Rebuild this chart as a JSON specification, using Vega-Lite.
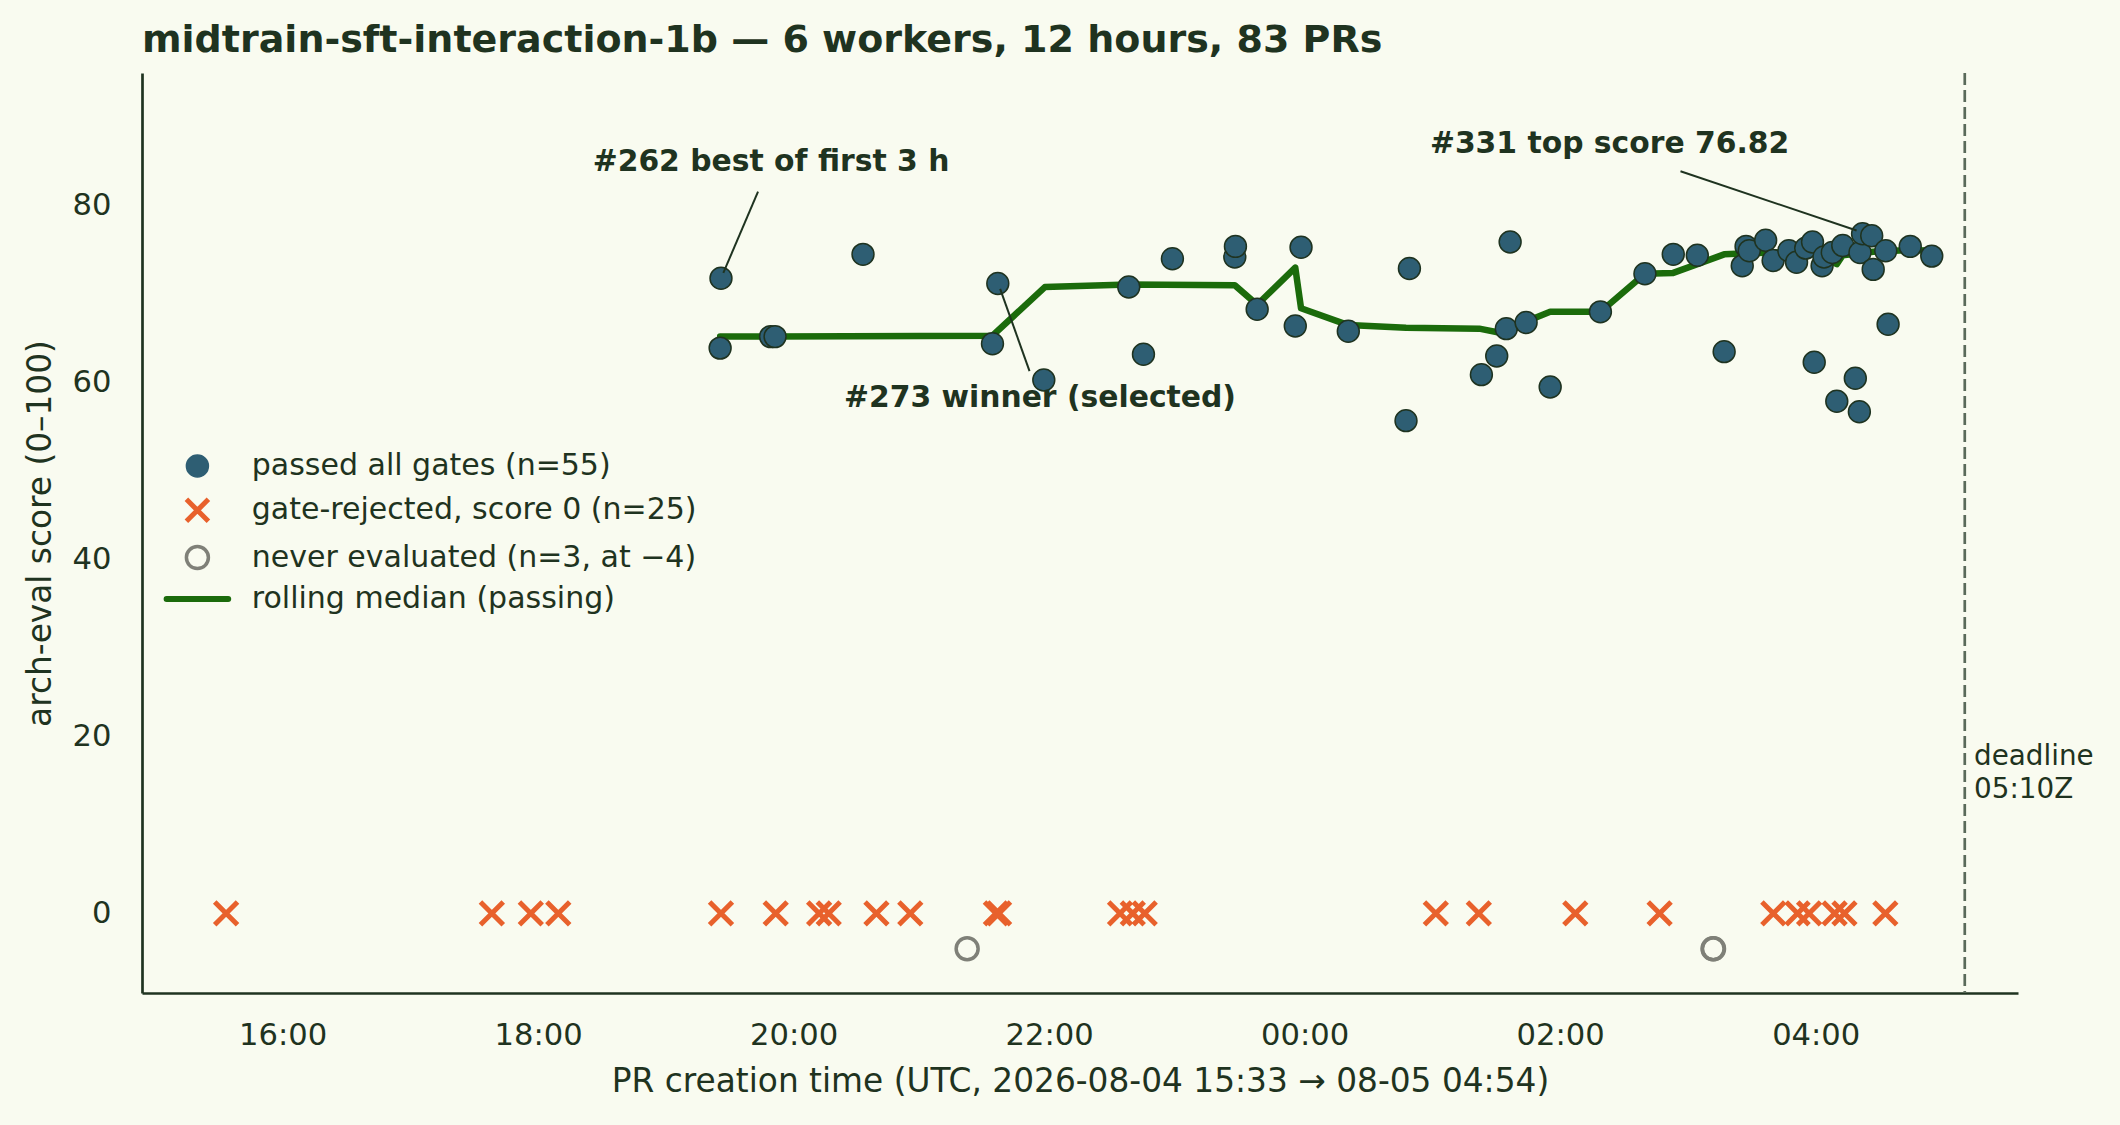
{
  "$schema": "https://vega.github.io/schema/vega-lite/v6.json",
  "width": 1876,
  "height": 920,
  "autosize": {"type": "none"},
  "padding": {"left": 142, "top": 73, "right": 102, "bottom": 132},
  "background": "#f9fbf0",
  "title": {
    "text": "midtrain-sft-interaction-1b — 6 workers, 12 hours, 83 PRs",
    "anchor": "start",
    "frame": "group",
    "font": "DejaVu Sans",
    "fontSize": 38,
    "fontWeight": "bold",
    "color": "#1f3320",
    "baseline": "alphabetic",
    "offset": -18.5
  },
  "config": {
    "view": {"stroke": null},
    "font": "DejaVu Sans",
    "axis": {
      "domainColor": "#1f3320",
      "domainWidth": 2.7,
      "ticks": false,
      "tickSize": 0,
      "grid": false,
      "labelFont": "DejaVu Sans",
      "labelFontSize": 30.6,
      "labelColor": "#1f3320",
      "titleFont": "DejaVu Sans",
      "titleFontSize": 32.8,
      "titleColor": "#1f3320",
      "titleFontWeight": "normal"
    },
    "legend": {
      "labelFont": "DejaVu Sans",
      "labelFontSize": 30,
      "labelColor": "#1f3320",
      "labelLimit": 1000,
      "padding": 0,
      "symbolSize": 484
    }
  },
  "datasets": {
    "passed": [
      {"t": "2026-08-04T19:25:54Z", "score": 71.8},
      {"t": "2026-08-04T19:25:30Z", "score": 63.9},
      {"t": "2026-08-04T19:49:12Z", "score": 65.2},
      {"t": "2026-08-04T19:51:18Z", "score": 65.2},
      {"t": "2026-08-04T20:32:36Z", "score": 74.5},
      {"t": "2026-08-04T21:33:24Z", "score": 64.4},
      {"t": "2026-08-04T21:35:54Z", "score": 71.2},
      {"t": "2026-08-04T21:57:30Z", "score": 60.3},
      {"t": "2026-08-04T22:37:24Z", "score": 70.8},
      {"t": "2026-08-04T22:44:18Z", "score": 63.2},
      {"t": "2026-08-04T22:57:54Z", "score": 74.0},
      {"t": "2026-08-04T23:27:12Z", "score": 74.2},
      {"t": "2026-08-04T23:27:30Z", "score": 75.4},
      {"t": "2026-08-04T23:37:42Z", "score": 68.3},
      {"t": "2026-08-04T23:55:36Z", "score": 66.4},
      {"t": "2026-08-04T23:58:18Z", "score": 75.3},
      {"t": "2026-08-05T00:20:30Z", "score": 65.8},
      {"t": "2026-08-05T00:47:36Z", "score": 55.7},
      {"t": "2026-08-05T00:49:12Z", "score": 72.9},
      {"t": "2026-08-05T01:23:00Z", "score": 60.9},
      {"t": "2026-08-05T01:30:12Z", "score": 63.0},
      {"t": "2026-08-05T01:34:42Z", "score": 66.1},
      {"t": "2026-08-05T01:36:30Z", "score": 75.9},
      {"t": "2026-08-05T01:44:00Z", "score": 66.8},
      {"t": "2026-08-05T01:55:18Z", "score": 59.5},
      {"t": "2026-08-05T02:18:54Z", "score": 68.0},
      {"t": "2026-08-05T02:39:48Z", "score": 72.3},
      {"t": "2026-08-05T02:53:06Z", "score": 74.5},
      {"t": "2026-08-05T03:04:24Z", "score": 74.4},
      {"t": "2026-08-05T03:17:00Z", "score": 63.5},
      {"t": "2026-08-05T03:25:30Z", "score": 73.2},
      {"t": "2026-08-05T03:27:18Z", "score": 75.4},
      {"t": "2026-08-05T03:28:48Z", "score": 74.9},
      {"t": "2026-08-05T03:36:30Z", "score": 76.1},
      {"t": "2026-08-05T03:40:00Z", "score": 73.8},
      {"t": "2026-08-05T03:47:24Z", "score": 74.9},
      {"t": "2026-08-05T03:51:00Z", "score": 73.6},
      {"t": "2026-08-05T03:55:18Z", "score": 75.2},
      {"t": "2026-08-05T03:58:30Z", "score": 75.9},
      {"t": "2026-08-05T03:59:18Z", "score": 62.3},
      {"t": "2026-08-05T04:03:00Z", "score": 73.2},
      {"t": "2026-08-05T04:03:54Z", "score": 74.2},
      {"t": "2026-08-05T04:07:48Z", "score": 74.7},
      {"t": "2026-08-05T04:09:54Z", "score": 57.9},
      {"t": "2026-08-05T04:12:42Z", "score": 75.5},
      {"t": "2026-08-05T04:18:36Z", "score": 60.5},
      {"t": "2026-08-05T04:20:30Z", "score": 56.7},
      {"t": "2026-08-05T04:20:48Z", "score": 74.7},
      {"t": "2026-08-05T04:22:00Z", "score": 76.82},
      {"t": "2026-08-05T04:26:18Z", "score": 76.6},
      {"t": "2026-08-05T04:27:00Z", "score": 72.8},
      {"t": "2026-08-05T04:32:54Z", "score": 74.9},
      {"t": "2026-08-05T04:34:00Z", "score": 66.6},
      {"t": "2026-08-05T04:44:24Z", "score": 75.4},
      {"t": "2026-08-05T04:54:30Z", "score": 74.3}
    ],
    "rejected": [
      {"t": "2026-08-04T15:33:30Z", "score": 0},
      {"t": "2026-08-04T17:38:18Z", "score": 0},
      {"t": "2026-08-04T17:56:36Z", "score": 0},
      {"t": "2026-08-04T18:09:30Z", "score": 0},
      {"t": "2026-08-04T19:25:54Z", "score": 0},
      {"t": "2026-08-04T19:51:36Z", "score": 0},
      {"t": "2026-08-04T20:12:00Z", "score": 0},
      {"t": "2026-08-04T20:16:30Z", "score": 0},
      {"t": "2026-08-04T20:38:54Z", "score": 0},
      {"t": "2026-08-04T20:54:48Z", "score": 0},
      {"t": "2026-08-04T21:35:00Z", "score": 0},
      {"t": "2026-08-04T21:36:30Z", "score": 0},
      {"t": "2026-08-04T22:33:18Z", "score": 0},
      {"t": "2026-08-04T22:39:18Z", "score": 0},
      {"t": "2026-08-04T22:44:54Z", "score": 0},
      {"t": "2026-08-05T01:01:36Z", "score": 0},
      {"t": "2026-08-05T01:21:48Z", "score": 0},
      {"t": "2026-08-05T02:07:06Z", "score": 0},
      {"t": "2026-08-05T02:46:42Z", "score": 0},
      {"t": "2026-08-05T03:40:06Z", "score": 0},
      {"t": "2026-08-05T03:51:30Z", "score": 0},
      {"t": "2026-08-05T03:56:54Z", "score": 0},
      {"t": "2026-08-05T04:08:54Z", "score": 0},
      {"t": "2026-08-05T04:13:30Z", "score": 0},
      {"t": "2026-08-05T04:32:42Z", "score": 0}
    ],
    "never": [
      {"t": "2026-08-04T21:21:30Z", "score": -4},
      {"t": "2026-08-05T03:11:48Z", "score": -4},
      {"t": "2026-08-05T03:12:00Z", "score": -4}
    ],
    "median": [
      {"t": "2026-08-04T19:25:30Z", "score": 65.2},
      {"t": "2026-08-04T19:51:18Z", "score": 65.2},
      {"t": "2026-08-04T21:33:24Z", "score": 65.3},
      {"t": "2026-08-04T21:58:00Z", "score": 70.8},
      {"t": "2026-08-04T22:37:24Z", "score": 71.1},
      {"t": "2026-08-04T23:27:12Z", "score": 71.0},
      {"t": "2026-08-04T23:37:42Z", "score": 68.8},
      {"t": "2026-08-04T23:55:36Z", "score": 73.0},
      {"t": "2026-08-04T23:58:18Z", "score": 68.4},
      {"t": "2026-08-05T00:20:30Z", "score": 66.5},
      {"t": "2026-08-05T00:47:36Z", "score": 66.2},
      {"t": "2026-08-05T01:22:00Z", "score": 66.1},
      {"t": "2026-08-05T01:34:42Z", "score": 65.5},
      {"t": "2026-08-05T01:44:00Z", "score": 66.9},
      {"t": "2026-08-05T01:55:18Z", "score": 68.0},
      {"t": "2026-08-05T02:18:54Z", "score": 68.0},
      {"t": "2026-08-05T02:39:48Z", "score": 72.3},
      {"t": "2026-08-05T02:53:06Z", "score": 72.4},
      {"t": "2026-08-05T03:17:00Z", "score": 74.5},
      {"t": "2026-08-05T03:25:30Z", "score": 74.6},
      {"t": "2026-08-05T03:40:00Z", "score": 74.7},
      {"t": "2026-08-05T03:58:30Z", "score": 74.8},
      {"t": "2026-08-05T04:09:54Z", "score": 73.4},
      {"t": "2026-08-05T04:12:42Z", "score": 74.4},
      {"t": "2026-08-05T04:27:00Z", "score": 74.8},
      {"t": "2026-08-05T04:44:24Z", "score": 75.0},
      {"t": "2026-08-05T04:54:30Z", "score": 74.9}
    ],
    "leaders": [
      {"t": "2026-08-04T19:43:18Z", "score": 81.6, "t2": "2026-08-04T19:27:00Z", "score2": 72.4},
      {"t": "2026-08-04T21:37:00Z", "score": 70.6, "t2": "2026-08-04T21:50:48Z", "score2": 61.3},
      {"t": "2026-08-05T02:56:30Z", "score": 83.9, "t2": "2026-08-05T04:19:12Z", "score2": 77.2}
    ],
    "notes": [
      {"t": "2026-08-04T19:49:24Z", "score": 83.9, "label": "#262 best of first 3 h"},
      {"t": "2026-08-04T21:55:42Z", "score": 57.24, "label": "#273 winner (selected)"},
      {"t": "2026-08-05T02:23:12Z", "score": 86.0, "label": "#331 top score 76.82"}
    ],
    "deadline": [
      {"t": "2026-08-05T05:10:00Z", "score": 16.83, "label": "deadline\n05:10Z"}
    ]
  },
  "layer": [
    {
      "data": {"name": "deadline"},
      "mark": {"type": "rule", "color": "#5a6a5a", "strokeWidth": 2.7, "strokeDash": [12, 5]},
      "encoding": {
        "x": {
          "field": "t",
          "type": "temporal",
          "scale": {
            "type": "utc",
            "domain": [
              {"year": 2026, "month": 8, "date": 4, "hours": 14, "minutes": 54, "utc": true},
              {"year": 2026, "month": 8, "date": 5, "hours": 5, "minutes": 35, "utc": true}
            ]
          },
          "axis": {
            "title": "PR creation time (UTC, 2026-08-04 15:33 → 08-05 04:54)",
            "labelExpr": "utcFormat(datum.value, '%H:%M')",
            "values": [
              {"year": 2026, "month": 8, "date": 4, "hours": 16, "utc": true},
              {"year": 2026, "month": 8, "date": 4, "hours": 18, "utc": true},
              {"year": 2026, "month": 8, "date": 4, "hours": 20, "utc": true},
              {"year": 2026, "month": 8, "date": 4, "hours": 22, "utc": true},
              {"year": 2026, "month": 8, "date": 5, "hours": 0, "utc": true},
              {"year": 2026, "month": 8, "date": 5, "hours": 2, "utc": true},
              {"year": 2026, "month": 8, "date": 5, "hours": 4, "utc": true}
            ],
            "labelPadding": 27.8,
            "titleY": 98.7,
            "titleBaseline": "alphabetic"
          }
        }
      }
    },
    {
      "encoding": {
        "x": {
          "field": "t",
          "type": "temporal",
          "scale": {
            "type": "utc",
            "domain": [
              {"year": 2026, "month": 8, "date": 4, "hours": 14, "minutes": 54, "utc": true},
              {"year": 2026, "month": 8, "date": 5, "hours": 5, "minutes": 35, "utc": true}
            ]
          },
          "axis": {
            "title": "PR creation time (UTC, 2026-08-04 15:33 → 08-05 04:54)",
            "labelExpr": "utcFormat(datum.value, '%H:%M')",
            "values": [
              {"year": 2026, "month": 8, "date": 4, "hours": 16, "utc": true},
              {"year": 2026, "month": 8, "date": 4, "hours": 18, "utc": true},
              {"year": 2026, "month": 8, "date": 4, "hours": 20, "utc": true},
              {"year": 2026, "month": 8, "date": 4, "hours": 22, "utc": true},
              {"year": 2026, "month": 8, "date": 5, "hours": 0, "utc": true},
              {"year": 2026, "month": 8, "date": 5, "hours": 2, "utc": true},
              {"year": 2026, "month": 8, "date": 5, "hours": 4, "utc": true}
            ],
            "labelPadding": 27.8,
            "titleY": 98.7,
            "titleBaseline": "alphabetic"
          }
        },
        "y": {
          "field": "score",
          "type": "quantitative",
          "scale": {"domain": [-9, 95], "nice": false, "zero": false},
          "axis": {
            "title": "arch-eval score (0–100)",
            "values": [0, 20, 40, 60, 80],
            "labelPadding": 31,
            "titleX": -92,
            "titleBaseline": "alphabetic"
          }
        }
      },
      "layer": [
        {
          "data": {"name": "median"},
          "mark": {"type": "line", "strokeWidth": 6.5, "strokeJoin": "round", "strokeCap": "round"},
          "encoding": {
            "color": {
              "datum": "rolling median (passing)",
              "type": "nominal",
              "scale": {
                "domain": ["passed all gates (n=55)", "gate-rejected, score 0 (n=25)", "never evaluated (n=3, at −4)", "rolling median (passing)"],
                "range": ["#2e5e73", "#e8612c", "#7f8078", "#1b6b0b"]
              },
              "legend": {
                "title": null,
                "orient": "none",
                "legendX": 40.4,
                "legendY": 378,
                "labelOffset": 39.4,
                "rowPadding": 8.3,
                "encode": {
                  "symbols": {
                    "update": {
                      "shape": {"signal": "substring(datum.value,0,1) === 'g' ? 'M-1,-1L1,1M-1,1L1,-1' : substring(datum.value,0,1) === 'r' ? 'M-2.8,0L2.8,0' : 'circle'"},
                      "fill": {"signal": "substring(datum.value,0,1) === 'p' ? '#2e5e73' : 'transparent'"},
                      "stroke": {"signal": "substring(datum.value,0,1) === 'p' ? '#1f3320' : substring(datum.value,0,1) === 'g' ? '#e8612c' : substring(datum.value,0,1) === 'n' ? '#7f8078' : '#1b6b0b'"},
                      "strokeWidth": {"signal": "substring(datum.value,0,1) === 'p' ? 1.5 : substring(datum.value,0,1) === 'g' ? 5 : substring(datum.value,0,1) === 'n' ? 3.5 : 6"},
                      "strokeCap": {"signal": "substring(datum.value,0,1) === 'r' ? 'round' : 'butt'"},
                      "opacity": {"value": 1},
                      "fillOpacity": {"value": 1},
                      "strokeOpacity": {"value": 1}
                    }
                  }
                }
              }
            }
          }
        },
        {
          "data": {"name": "passed"},
          "mark": {"type": "point", "shape": "circle", "filled": true, "size": 480, "fill": "#2e5e73", "stroke": "#1f3320", "strokeWidth": 1.5, "opacity": 1}
        },
        {
          "data": {"name": "rejected"},
          "mark": {"type": "point", "shape": "M-1,-1L1,1M-1,1L1,-1", "filled": false, "size": 520, "stroke": "#e8612c", "strokeWidth": 5, "opacity": 1}
        },
        {
          "data": {"name": "never"},
          "mark": {"type": "point", "shape": "circle", "filled": false, "size": 484, "stroke": "#7f8078", "strokeWidth": 3.5, "opacity": 1}
        },
        {
          "data": {"name": "leaders"},
          "mark": {"type": "rule", "color": "#1f3320", "strokeWidth": 2},
          "encoding": {
            "x2": {"field": "t2"},
            "y2": {"field": "score2"}
          }
        },
        {
          "data": {"name": "notes"},
          "mark": {"type": "text", "font": "DejaVu Sans", "fontWeight": "bold", "fontSize": 29.8, "color": "#1f3320", "align": "center", "baseline": "alphabetic"},
          "encoding": {
            "text": {"field": "label", "type": "nominal"}
          }
        },
        {
          "data": {"name": "deadline"},
          "mark": {"type": "text", "font": "DejaVu Sans", "fontSize": 27.8, "color": "#1f3320", "align": "left", "baseline": "alphabetic", "dx": 9.3, "lineBreak": "\n", "lineHeight": 33.3},
          "encoding": {
            "text": {"field": "label", "type": "nominal"}
          }
        }
      ]
    }
  ]
}
